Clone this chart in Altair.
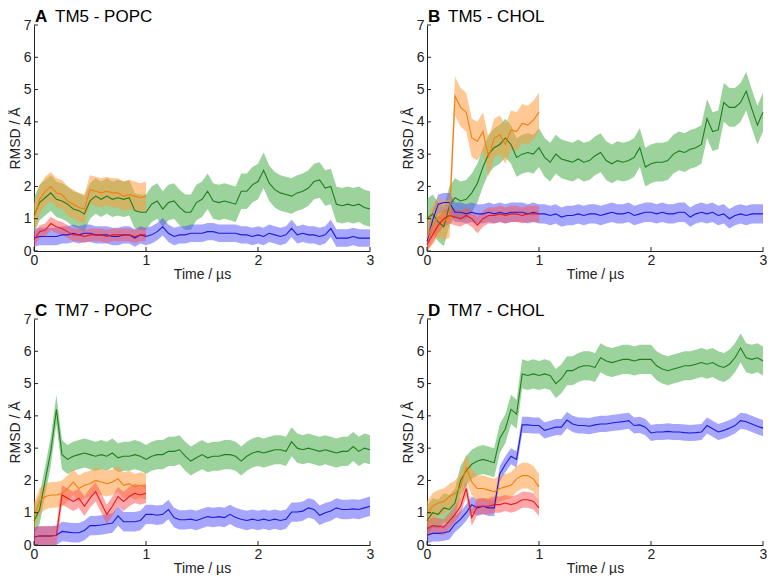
import altair as alt
import pandas as pd

# ---------------- data (RMSD in Angstrom) ----------------
# time grids (microseconds) at which values were read
T_LONG = [round(0.05 * i, 2) for i in range(61)]   # 0 .. 3 us
T_SHORT = [round(0.05 * i, 2) for i in range(21)]  # 0 .. 1 us

# Panel A  TM5 - POPC
A_GREEN = [1.1, 1.5, 1.65, 1.8, 1.6, 1.55, 1.45, 1.3, 1.25, 1.15,
           1.55, 1.7, 1.6, 1.7, 1.6, 1.65, 1.6, 1.65, 1.25, 1.2,
           1.2, 1.45, 1.55, 1.3, 1.5, 1.55, 1.35, 1.2, 1.2, 1.5,
           1.6, 1.85, 1.55, 1.5, 1.55, 1.5, 1.45, 1.85, 1.85, 2.05,
           2.15, 2.5, 2.1, 1.9, 1.8, 1.75, 1.7, 1.8, 1.85, 1.95,
           2.15, 2.2, 1.95, 2.0, 1.45, 1.4, 1.45, 1.4, 1.45, 1.35,
           1.3]
A_BLUE = [0.4, 0.45, 0.45, 0.45, 0.45, 0.5, 0.5, 0.55, 0.5, 0.55,
          0.55, 0.5, 0.5, 0.5, 0.45, 0.45, 0.5, 0.5, 0.4, 0.5,
          0.45, 0.5, 0.6, 0.75, 0.55, 0.45, 0.5, 0.5, 0.55, 0.55,
          0.55, 0.6, 0.6, 0.55, 0.55, 0.55, 0.55, 0.5, 0.5, 0.45,
          0.5, 0.45, 0.55, 0.5, 0.45, 0.5, 0.7, 0.5, 0.55, 0.5,
          0.5, 0.45, 0.5, 0.7, 0.4, 0.4, 0.4, 0.45, 0.4, 0.4,
          0.4]
A_ORANGE = [1.0, 1.6, 1.85, 2.0, 1.8, 1.75, 1.55, 1.45, 1.35, 1.3,
            1.9, 1.85, 1.8, 1.85, 1.8, 1.8, 1.7, 1.75, 1.7, 1.65,
            1.7]
A_RED = [0.35, 0.6, 0.65, 0.85, 0.75, 0.7, 0.6, 0.5, 0.5, 0.45,
         0.5, 0.5, 0.5, 0.45, 0.5, 0.5, 0.5, 0.5, 0.45, 0.5,
         0.5]
A_SPREAD = [0.55, 0.27, 0.45, 0.2]  # green, blue, orange, red half-width of raw trace

# Panel B  TM5 - CHOL
B_GREEN = [1.0, 1.15, 0.9, 0.75, 1.4, 1.65, 1.55, 1.6, 1.8, 2.1,
           2.6, 3.0, 3.2, 3.3, 3.5, 3.3, 2.9, 3.0, 3.05, 3.0,
           3.2, 2.9, 2.75, 3.0, 2.85, 2.8, 2.75, 2.85, 2.75, 2.8,
           2.95, 3.05, 2.8, 2.7, 2.8, 2.75, 2.8, 2.9, 3.2, 2.6,
           2.7, 2.75, 2.75, 2.8, 3.0, 3.1, 3.05, 3.15, 3.2, 3.3,
           4.1, 3.7, 3.75, 4.6, 4.45, 4.45, 4.6, 4.95, 4.4, 3.9,
           4.3]
B_BLUE = [0.3, 0.95, 1.45, 1.5, 1.5, 1.2, 1.2, 1.15, 1.2, 1.15,
          1.15, 1.2, 1.15, 1.2, 1.15, 1.2, 1.2, 1.2, 1.15, 1.2,
          1.15, 1.15, 1.1, 1.15, 1.05, 1.1, 1.1, 1.15, 1.1, 1.15,
          1.15, 1.1, 1.15, 1.2, 1.15, 1.15, 1.2, 1.1, 1.15, 1.2,
          1.2, 1.15, 1.2, 1.15, 1.15, 1.2, 1.2, 1.05, 1.15, 1.2,
          1.15, 1.2, 1.1, 1.15, 1.0, 1.1, 1.15, 1.1, 1.15, 1.15,
          1.15]
B_ORANGE = [0.4, 0.8, 1.05, 0.95, 1.0, 4.8, 4.45, 4.3, 3.5, 3.4,
            3.7, 2.9, 3.5, 3.6, 3.3, 3.75, 3.7, 3.95, 3.9, 4.05,
            4.3]
B_RED = [0.2, 0.5, 0.8, 1.0, 1.1, 1.05, 1.0, 1.1, 1.0, 0.8,
         1.0, 1.1, 1.1, 1.15, 1.1, 1.15, 1.15, 1.1, 1.15, 1.15,
         1.15]
B_SPREAD = [0.6, 0.3, 0.6, 0.25]

# Panel C  TM7 - POPC
C_GREEN = [0.75, 1.1, 2.0, 2.9, 4.2, 2.8, 2.65, 2.75, 2.8, 2.85,
           2.8, 2.75, 2.8, 2.75, 2.85, 2.7, 2.75, 2.75, 2.8, 2.75,
           2.65, 2.75, 2.8, 2.8, 2.9, 2.9, 2.95, 2.75, 2.6, 2.7,
           2.8, 2.7, 2.75, 2.75, 2.8, 2.8, 2.75, 2.6, 2.75, 2.85,
           2.9, 2.85, 2.9, 2.95, 2.95, 2.9, 3.2, 3.0, 2.95, 3.0,
           2.95, 2.9, 2.95, 2.9, 2.85, 2.9, 2.9, 3.05, 2.9, 3.0,
           2.95]
C_BLUE = [0.25, 0.28, 0.28, 0.28, 0.3, 0.42, 0.4, 0.38, 0.38, 0.45,
          0.6, 0.6, 0.62, 0.65, 0.68, 0.9, 0.72, 0.72, 0.72, 0.76,
          0.95, 0.95, 0.92, 0.95, 1.1, 0.85, 0.78, 0.78, 0.8, 0.76,
          0.82, 0.88, 0.85, 0.88, 0.85, 0.95, 0.85, 0.8, 0.76, 0.8,
          0.76, 0.8, 0.76, 0.8, 0.76, 0.8, 1.02, 1.02, 1.05, 1.15,
          1.1, 0.92, 1.0, 1.05, 1.15, 1.1, 1.1, 1.12, 1.1, 1.15,
          1.2]
C_ORANGE = [0.9, 1.35, 1.5, 1.55, 1.55, 1.6, 1.75, 1.95, 1.75, 1.85,
            1.9, 2.0, 1.95, 1.9, 1.95, 2.05, 1.85, 1.9, 1.8, 1.85,
            1.8]
C_RED = [0.25, 0.28, 0.28, 0.28, 0.3, 1.55, 1.45, 1.35, 1.45, 1.2,
         1.45, 1.65, 1.3, 0.95, 1.2, 1.5, 1.35, 1.5, 1.6, 1.55,
         1.6]
C_SPREAD = [0.45, 0.3, 0.4, 0.3]

# Panel D  TM7 - CHOL
D_GREEN = [0.75, 1.0, 0.95, 1.15, 1.1, 1.3, 2.0, 2.3, 2.5, 2.6,
           2.65, 2.6, 2.55, 3.3, 3.6, 4.2, 4.05, 5.3, 5.25, 5.3,
           5.25, 5.3, 5.25, 5.0, 5.15, 5.4, 5.4, 5.5, 5.55, 5.55,
           5.5, 5.8, 5.7, 5.65, 5.7, 5.75, 5.75, 5.7, 5.75, 5.75,
           5.75, 5.55, 5.45, 5.4, 5.45, 5.5, 5.55, 5.55, 5.6, 5.65,
           5.6, 5.65, 5.55, 5.5, 5.6, 5.8, 6.1, 5.8, 5.75, 5.8,
           5.7]
D_BLUE = [0.3, 0.36, 0.36, 0.38, 0.42, 0.65, 0.8, 1.0, 1.25, 1.15,
          1.2, 1.15, 1.15, 2.2, 2.5, 2.75, 2.65, 3.72, 3.72, 3.7,
          3.7, 3.55, 3.6, 3.65, 3.65, 3.87, 3.75, 3.7, 3.7, 3.68,
          3.72, 3.75, 3.75, 3.78, 3.8, 3.82, 3.85, 3.7, 3.72, 3.65,
          3.47, 3.5, 3.5, 3.52, 3.5, 3.5, 3.48, 3.47, 3.48, 3.5,
          3.7, 3.6, 3.5, 3.55, 3.62, 3.7, 3.85, 3.82, 3.75, 3.68,
          3.62]
D_ORANGE = [0.95, 1.2, 1.3, 1.35, 1.5, 1.6, 1.8, 2.4, 1.95, 1.75,
            1.75, 1.7, 1.65, 1.75, 1.8, 1.85, 2.05, 2.15, 2.15, 2.05,
            1.8]
D_RED = [0.5, 0.6, 0.58, 0.55, 0.75, 0.95, 1.2, 1.75, 0.85, 1.2,
         1.2, 1.2, 1.25, 1.25, 1.3, 1.25, 1.3, 1.4, 1.4, 1.35,
         1.15]
D_SPREAD = [0.45, 0.25, 0.4, 0.25]

PANEL_LETTERS = ["A", "B", "C", "D"]
PANEL_NAMES = ["TM5 - POPC", "TM5 - CHOL", "TM7 - POPC", "TM7 - CHOL"]
X_TICKS = [0, 1, 2, 3]
Y_TICKS = [0, 1, 2, 3, 4, 5, 6, 7]

# series styling: (band colour, band opacity, line colour)
STYLE = [("#3aa63a", 0.5, "#1f7f1f"),   # green
         ("#4d4dff", 0.5, "#1c1cd6"),   # blue
         ("#ff9a3c", 0.55, "#f07f10"),  # orange
         ("#ff4d4d", 0.5, "#e31b1b")]   # red

W, H = 336, 226
FONT = "Liberation Sans"
INK = "#222222"

xs = alt.Scale(domain=[0, 3], nice=False, zero=False)
ys = alt.Scale(domain=[0, 7], nice=False)
xaxis = alt.Axis(values=X_TICKS, title="Time / µs", grid=False, ticks=False,
                 labelFlush=False, format="d", labelPadding=2, titlePadding=0,
                 domainColor=INK, labelColor=INK, titleColor=INK,
                 labelFont=FONT, titleFont=FONT, labelFontSize=14,
                 titleFontSize=14, titleFontWeight="normal")
yaxis = alt.Axis(values=Y_TICKS, title="RMSD / Å", grid=False, ticks=False,
                 format="d", labelPadding=3, titlePadding=1,
                 domainColor=INK, labelColor=INK, titleColor=INK,
                 labelFont=FONT, titleFont=FONT, labelFontSize=14,
                 titleFontSize=14, titleFontWeight="normal")


def series_layers(t, vals, hw, style):
    band_color, band_op, line_color = style
    df = pd.DataFrame({"t": t, "y": vals})
    df["lo"] = (df["y"] - hw).clip(lower=0)
    df["hi"] = df["y"] + hw
    x = alt.X("t:Q", scale=xs, axis=xaxis)
    band = alt.Chart(df).mark_area(color=band_color, opacity=band_op).encode(
        x=x, y=alt.Y("lo:Q", scale=ys, axis=yaxis), y2="hi:Q")
    line = alt.Chart(df).mark_line(color=line_color, strokeWidth=1.1).encode(
        x=x, y=alt.Y("y:Q", scale=ys, axis=yaxis))
    return band, line


def panel(letter, name, green, blue, orange, red, spread):
    series = [(T_LONG, green), (T_LONG, blue), (T_SHORT, orange), (T_SHORT, red)]
    bands, lines = [], []
    for (t, v), hw, st in zip(series, spread, STYLE):
        b, l = series_layers(t, v, hw, st)
        bands.append(b)
        lines.append(l)
    ytick = alt.Chart(pd.DataFrame({"v": Y_TICKS})).mark_rule(color=INK).encode(
        y=alt.Y("v:Q", scale=ys, axis=yaxis), x=alt.value(0), x2=alt.value(4))
    xtick = alt.Chart(pd.DataFrame({"v": X_TICKS})).mark_rule(color=INK).encode(
        x=alt.X("v:Q", scale=xs, axis=xaxis), y=alt.value(H), y2=alt.value(H - 4))
    t_letter = alt.Chart(pd.DataFrame({"s": [letter]})).mark_text(
        align="left", baseline="alphabetic", font=FONT, fontSize=17,
        fontWeight="bold", color="black").encode(
        text="s:N", x=alt.value(1), y=alt.value(-3))
    t_name = alt.Chart(pd.DataFrame({"s": [name]})).mark_text(
        align="left", baseline="alphabetic", font=FONT, fontSize=17,
        color="black").encode(text="s:N", x=alt.value(21), y=alt.value(-3))
    return alt.layer(*bands, *lines, ytick, xtick, t_letter, t_name).properties(
        width=W, height=H)


pA = panel(PANEL_LETTERS[0], PANEL_NAMES[0], A_GREEN, A_BLUE, A_ORANGE, A_RED, A_SPREAD)
pB = panel(PANEL_LETTERS[1], PANEL_NAMES[1], B_GREEN, B_BLUE, B_ORANGE, B_RED, B_SPREAD)
pC = panel(PANEL_LETTERS[2], PANEL_NAMES[2], C_GREEN, C_BLUE, C_ORANGE, C_RED, C_SPREAD)
pD = panel(PANEL_LETTERS[3], PANEL_NAMES[3], D_GREEN, D_BLUE, D_ORANGE, D_RED, D_SPREAD)

chart = alt.vconcat(
    alt.hconcat(pA, pB, spacing=27),
    alt.hconcat(pC, pD, spacing=27),
    spacing=21,
).properties(padding=0, background="white").configure_view(stroke=None)

chart.save("out.html", embed_options={"renderer": "svg", "actions": False})
